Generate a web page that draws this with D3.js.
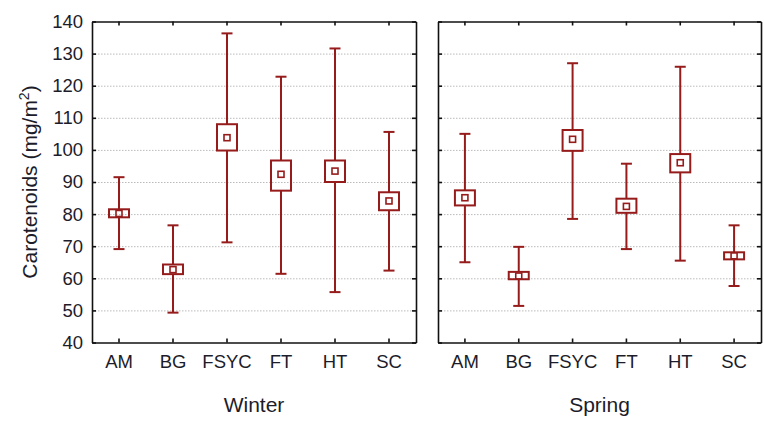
<!DOCTYPE html>
<html>
  <head>
    <meta charset="UTF-8">
    <script src="https://d3js.org/d3.v7.min.js"></script>
    <style>
      body { margin: 0; background: #fff; }
      text { font-family: "Liberation Sans", Arial, sans-serif; fill: #1c1c2a; }
      .gridlines line { stroke: #bbb; stroke-dasharray: 1.5 1.5; }
      .gridlines .domain { stroke: none; }
      .frame .domain, .frame line { stroke: #111; stroke-width: 1.6; }
    </style>
  </head>
  <body>
    <svg id="svg" width="764" height="422"></svg>
    <script>
      // ---- data ----
      const sites = ["AM", "BG", "FSYC", "FT", "HT", "SC"];
      const seasons = ["Winter", "Spring"];
      const yTicks = [40, 50, 60, 70, 80, 90, 100, 110, 120, 130, 140];

      // mean, box (mean +- SE), whiskers
      const winterMean = [80.2, 62.7, 103.8, 92.4, 93.4, 84.1];
      const winterBoxLo = [79.0, 61.3, 99.8, 87.3, 90.0, 81.2];
      const winterBoxHi = [81.5, 64.3, 108.0, 96.7, 96.7, 86.8];
      const winterLo = [69.1, 49.3, 71.2, 61.4, 55.7, 62.4];
      const winterHi = [91.5, 76.5, 136.3, 122.8, 131.6, 105.6];

      const springMean = [85.1, 60.7, 103.3, 82.4, 96.0, 67.0];
      const springBoxLo = [82.7, 59.7, 99.7, 80.4, 93.0, 65.9];
      const springBoxHi = [87.4, 62.0, 106.2, 84.8, 98.7, 68.1];
      const springLo = [65.0, 51.4, 78.5, 69.1, 65.5, 57.6];
      const springHi = [105.0, 69.8, 127.0, 95.7, 125.9, 76.5];

      const color = "#961c1c";

      const svg = d3.select("svg#svg");
      const plotTop = 21.5, plotBottom = 342.5;
      const panels = [
        { name: seasons[0], x0: 92, x1: 416, mean: winterMean, blo: winterBoxLo, bhi: winterBoxHi, lo: winterLo, hi: winterHi },
        { name: seasons[1], x0: 438, x1: 761, mean: springMean, blo: springBoxLo, bhi: springBoxHi, lo: springLo, hi: springHi }
      ];

      const yScale = d3.scaleLinear().domain([40, 140]).range([plotBottom, plotTop]);

      panels.forEach(p => {
        const xScale = d3.scaleBand().domain(sites).range([p.x0, p.x1]).paddingInner(0).paddingOuter(0);
        const w = p.x1 - p.x0;

        // gridlines
        svg.append("g")
          .attr("class", "gridlines")
          .attr("transform", "translate(" + p.x0 + ",0)")
          .call(d3.axisLeft(yScale).tickValues(yTicks.slice(1, -1)).tickFormat("").tickSize(-w));

        // frame axes with inward ticks
        svg.append("g").attr("class", "frame")
          .attr("transform", "translate(0," + plotTop + ")")
          .call(d3.axisTop(xScale).tickSize(-4).tickSizeOuter(0).tickFormat(""));
        const bAxis = svg.append("g").attr("class", "frame")
          .attr("transform", "translate(0," + plotBottom + ")")
          .call(d3.axisBottom(xScale).tickSize(-4).tickSizeOuter(0).tickPadding(12));
        bAxis.selectAll("text").style("font-size", "18.5px");

        const lAxis = svg.append("g").attr("class", "frame")
          .attr("transform", "translate(" + p.x0 + ",0)")
          .call(d3.axisLeft(yScale).tickValues(yTicks).tickSize(-4).tickSizeOuter(0).tickPadding(9));
        if (p.name === "Winter") {
          lAxis.selectAll("text").style("font-size", "18.5px");
        } else {
          lAxis.selectAll("text").remove();
        }
        svg.append("g").attr("class", "frame")
          .attr("transform", "translate(" + p.x1 + ",0)")
          .call(d3.axisRight(yScale).tickValues(yTicks).tickSize(-4).tickSizeOuter(0).tickFormat(""));

        // season label
        svg.append("text")
          .attr("x", (p.x0 + p.x1) / 2)
          .attr("y", 412)
          .attr("text-anchor", "middle")
          .style("font-size", "21px")
          .text(p.name);

        // whiskers + boxes
        const g = svg.append("g").attr("fill", "none").attr("stroke", color).attr("stroke-width", 2);
        sites.forEach((s, i) => {
          const cx = xScale(s) + xScale.bandwidth() / 2;
          g.append("line").attr("x1", cx).attr("x2", cx)
            .attr("y1", yScale(p.hi[i])).attr("y2", yScale(p.bhi[i]));
          g.append("line").attr("x1", cx).attr("x2", cx)
            .attr("y1", yScale(p.blo[i])).attr("y2", yScale(p.lo[i]));
          [p.hi[i], p.lo[i]].forEach(v => {
            g.append("line").attr("x1", cx - 5.5).attr("x2", cx + 5.5)
              .attr("y1", yScale(v)).attr("y2", yScale(v));
          });
          g.append("rect")
            .attr("x", cx - 10).attr("width", 20)
            .attr("y", yScale(p.bhi[i]))
            .attr("height", yScale(p.blo[i]) - yScale(p.bhi[i]));
          g.append("rect")
            .attr("x", cx - 3).attr("width", 6)
            .attr("y", yScale(p.mean[i]) - 3).attr("height", 6)
            .attr("stroke-width", 1.6);
        });
      });

      // y-axis title
      const yt = svg.append("text")
        .attr("transform", "translate(37," + ((plotTop + plotBottom) / 2) + ") rotate(-90)")
        .attr("text-anchor", "middle")
        .style("font-size", "21px");
      yt.append("tspan").text("Carotenoids (mg/m");
      yt.append("tspan").attr("dy", -8).style("font-size", "14px").text("2");
      yt.append("tspan").attr("dy", 8).text(")");
    </script>
  </body>
</html>
